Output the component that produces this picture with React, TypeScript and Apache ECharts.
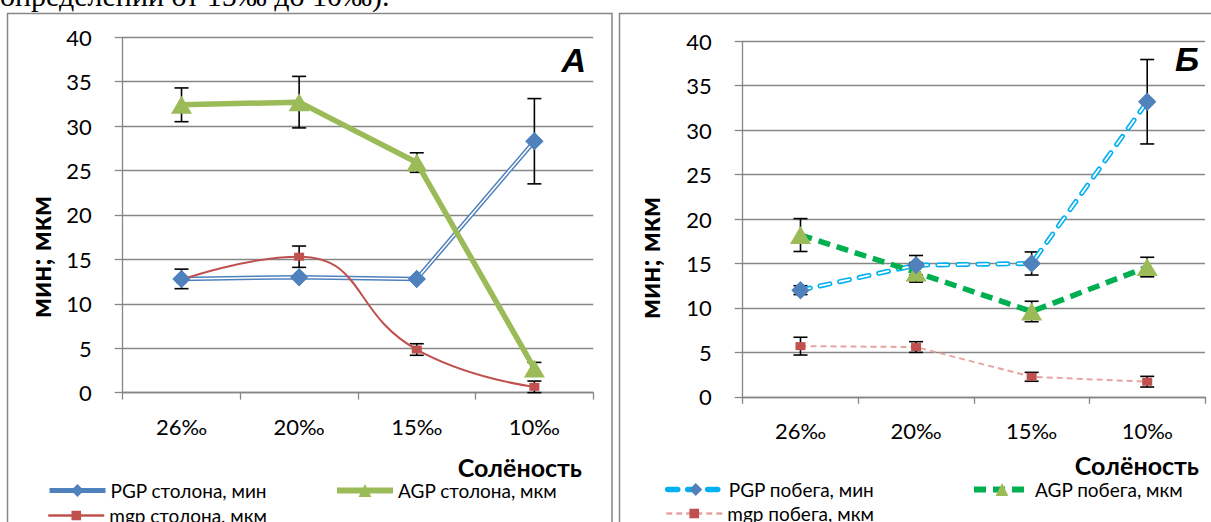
import React, { useEffect, useRef } from "react";
import * as echarts from "echarts";

const categories = ["26‰", "20‰", "15‰", "10‰"];

// Panel A (столон)
const pgpStolon = [12.8, 13.0, 12.8, 28.3];
const pgpStolonErr = [1.1, 0, 0, 4.8];
const agpStolon = [32.4, 32.7, 25.9, 2.7];
const agpStolonErr = [1.9, 2.9, 1.1, 0.7];
const mgpStolon = [12.7, 15.3, 4.85, 0.65];
const mgpStolonErr = [0, 1.2, 0.65, 0.65];

// Panel Б (побег)
const pgpShoot = [12.0, 14.8, 15.0, 33.2];
const pgpShootErr = [0.5, 1.1, 1.3, 4.75];
const agpShoot = [18.2, 14.0, 9.6, 14.6];
const agpShootErr = [1.85, 1.1, 1.15, 1.1];
const mgpShoot = [5.7, 5.6, 2.25, 1.7];
const mgpShootErr = [1.0, 0.6, 0.5, 0.6];

const yMin = 0;
const yMax = 40;
const yStep = 5;

const names = {
  pgpA: "PGP столона, мин",
  agpA: "AGP столона, мкм",
  mgpA: "mgp столона, мкм",
  pgpB: "PGP побега, мин",
  agpB: "AGP побега, мкм",
  mgpB: "mgp побега, мкм",
};

const AXIS = "#868686";
const FONT = "Lato";

function errorSeries(axisIndex: number, values: number[], errs: number[]) {
  return {
    type: "custom",
    xAxisIndex: axisIndex,
    yAxisIndex: axisIndex,
    z: 1,
    silent: true,
    data: values.map((v, i) => [i, v - errs[i], v + errs[i], errs[i]]),
    encode: { x: 0, y: [1, 2] },
    renderItem: (params: any, api: any) => {
      const e = api.value(3);
      if (!e) return { type: "group", children: [] };
      const i = api.value(0);
      const lo = api.coord([i, api.value(1)]);
      const hi = api.coord([i, api.value(2)]);
      const hw = 7;
      const st = { stroke: "#000", lineWidth: 1.6 };
      return {
        type: "group",
        children: [
          { type: "line", shape: { x1: lo[0], y1: lo[1], x2: hi[0], y2: hi[1] }, style: st },
          { type: "line", shape: { x1: lo[0] - hw, y1: lo[1], x2: lo[0] + hw, y2: lo[1] }, style: st },
          { type: "line", shape: { x1: hi[0] - hw, y1: hi[1], x2: hi[0] + hw, y2: hi[1] }, style: st },
        ],
      };
    },
  };
}

function makeLegend(name: string, left: number, top: number, lineWidth: number, itemHeight: number) {
  return {
    data: [name],
    left,
    top,
    orient: "horizontal",
    selectedMode: false,
    itemWidth: 56,
    itemHeight,
    itemGap: 6,
    lineStyle: { width: lineWidth },
    textStyle: { fontFamily: FONT, fontSize: 19, color: "#000" },
  };
}

export default function App() {
  const ref = useRef<HTMLDivElement>(null);

  useEffect(() => {
    if (!ref.current) return;
    const chart = echarts.init(ref.current, undefined, { renderer: "svg" });

    const xAxisBase = {
      type: "category",
      data: categories,
      boundaryGap: true,
      axisLine: { show: true, lineStyle: { color: AXIS, width: 1.3 } },
      axisTick: { show: true, length: 7, interval: 0, lineStyle: { color: AXIS, width: 1.3 } },
      axisLabel: { fontFamily: FONT, fontSize: 22, color: "#000", margin: 23 },
      splitLine: { show: false },
    };
    const yAxisBase = {
      type: "value",
      min: yMin,
      max: yMax,
      interval: yStep,
      axisLine: { show: true, lineStyle: { color: AXIS, width: 1.3 } },
      axisTick: { show: true, length: 8, lineStyle: { color: AXIS, width: 1.3 } },
      axisLabel: { fontFamily: FONT, fontSize: 22, color: "#000", margin: 31 },
      splitLine: { show: true, lineStyle: { color: AXIS, width: 1.3 } },
    };

    const option: any = {
      animation: false,
      textStyle: { fontFamily: FONT },
      grid: [
        { left: 122.7, top: 37.3, width: 470.5, height: 355.3 },
        { left: 742.7, top: 41.3, width: 462.3, height: 355.5 },
      ],
      xAxis: [
        { ...xAxisBase, gridIndex: 0 },
        { ...xAxisBase, gridIndex: 1 },
      ],
      yAxis: [
        { ...yAxisBase, gridIndex: 0 },
        { ...yAxisBase, gridIndex: 1 },
      ],
      legend: [
        makeLegend(names.pgpA, 42, 476, 5, 16),
        makeLegend(names.agpA, 329, 476, 6, 16),
        makeLegend(names.mgpA, 42, 501, 2.5, 12),
        makeLegend(names.pgpB, 660, 475, 5.5, 16),
        makeLegend(names.agpB, 966, 475, 6, 16),
        makeLegend(names.mgpB, 660, 499, 2.5, 12),
      ],
      series: [
        // error bars (under everything)
        errorSeries(0, pgpStolon, pgpStolonErr),
        errorSeries(0, agpStolon, agpStolonErr),
        errorSeries(0, mgpStolon, mgpStolonErr),
        errorSeries(1, pgpShoot, pgpShootErr),
        errorSeries(1, agpShoot, agpShootErr),
        errorSeries(1, mgpShoot, mgpShootErr),

        // ---- Panel A ----
        {
          name: names.pgpA,
          type: "line",
          xAxisIndex: 0,
          yAxisIndex: 0,
          data: pgpStolon,
          z: 2,
          symbol: "diamond",
          symbolSize: 18,
          itemStyle: { color: "#4F81BD" },
          lineStyle: { color: "#4F81BD", width: 4.5 },
        },
        {
          type: "line",
          xAxisIndex: 0,
          yAxisIndex: 0,
          data: pgpStolon,
          z: 3,
          silent: true,
          showSymbol: false,
          symbol: "none",
          lineStyle: { color: "#fff", width: 1.5 },
        },
        {
          name: names.agpA,
          type: "line",
          xAxisIndex: 0,
          yAxisIndex: 0,
          data: agpStolon,
          z: 4,
          symbol: "triangle",
          symbolSize: [21, 18],
          itemStyle: { color: "#9BBB59" },
          lineStyle: { color: "#9BBB59", width: 5.5 },
        },
        {
          name: names.mgpA,
          type: "line",
          xAxisIndex: 0,
          yAxisIndex: 0,
          data: mgpStolon,
          z: 4,
          smooth: 0.5,
          symbol: "rect",
          symbolSize: [10, 8],
          itemStyle: { color: "#C0504D" },
          lineStyle: { color: "#C0504D", width: 2 },
        },
        {
          type: "line",
          xAxisIndex: 0,
          yAxisIndex: 0,
          data: pgpStolon,
          z: 5,
          silent: true,
          symbol: "diamond",
          symbolSize: 18,
          itemStyle: { color: "#4F81BD" },
          lineStyle: { width: 0, opacity: 0 },
        },

        // ---- Panel Б ----
        {
          name: names.pgpB,
          type: "line",
          xAxisIndex: 1,
          yAxisIndex: 1,
          data: pgpShoot,
          z: 2,
          symbol: "diamond",
          symbolSize: 18,
          itemStyle: { color: "#4F81BD" },
          lineStyle: { color: "#00B0F0", width: 5, type: [10, 10], cap: "round" },
        },
        {
          type: "line",
          xAxisIndex: 1,
          yAxisIndex: 1,
          data: pgpShoot,
          z: 3,
          silent: true,
          showSymbol: false,
          symbol: "none",
          lineStyle: { color: "#fff", width: 1.8, type: [10, 10], cap: "round" },
        },
        {
          name: names.agpB,
          type: "line",
          xAxisIndex: 1,
          yAxisIndex: 1,
          data: agpShoot,
          z: 4,
          symbol: "triangle",
          symbolSize: [21, 18],
          itemStyle: { color: "#9BBB59" },
          lineStyle: { color: "#00B050", width: 5.5, type: [12, 7] },
        },
        {
          name: names.mgpB,
          type: "line",
          xAxisIndex: 1,
          yAxisIndex: 1,
          data: mgpShoot,
          z: 4,
          symbol: "rect",
          symbolSize: [10, 8],
          itemStyle: { color: "#C0504D" },
          lineStyle: { color: "#E6A5A3", width: 2, type: [6, 4] },
        },
        {
          type: "line",
          xAxisIndex: 1,
          yAxisIndex: 1,
          data: pgpShoot,
          z: 5,
          silent: true,
          symbol: "diamond",
          symbolSize: 18,
          itemStyle: { color: "#4F81BD" },
          lineStyle: { width: 0, opacity: 0 },
        },
      ],
      graphic: [
        {
          type: "text",
          left: 0,
          top: -20,
          z: 10,
          style: {
            text: "определении от 15‰ до 10‰).",
            font: "30px 'Liberation Serif'",
            fill: "#000",
          },
        },
        {
          type: "rect",
          shape: { x: 7.5, y: 13.5, width: 604.5, height: 600 },
          style: { fill: "none", stroke: AXIS, lineWidth: 1.5 },
          z: 0,
        },
        {
          type: "rect",
          shape: { x: 619.5, y: 13.5, width: 700, height: 600 },
          style: { fill: "none", stroke: AXIS, lineWidth: 1.5 },
          z: 0,
        },
        {
          type: "text",
          x: 586,
          y: 60,
          style: {
            text: "A",
            font: "italic bold 34px 'Liberation Sans'",
            fill: "#000",
            textAlign: "right",
            textVerticalAlign: "middle",
          },
        },
        {
          type: "text",
          x: 1199,
          y: 59,
          style: {
            text: "Б",
            font: "italic bold 34px 'Liberation Sans'",
            fill: "#000",
            textAlign: "right",
            textVerticalAlign: "middle",
          },
        },
        {
          type: "text",
          x: 582,
          y: 467,
          style: {
            text: "Солёность",
            font: "bold 25px Lato",
            fill: "#000",
            textAlign: "right",
            textVerticalAlign: "middle",
          },
        },
        {
          type: "text",
          x: 1199,
          y: 465,
          style: {
            text: "Солёность",
            font: "bold 25px Lato",
            fill: "#000",
            textAlign: "right",
            textVerticalAlign: "middle",
          },
        },
        {
          type: "text",
          x: 40,
          y: 257,
          rotation: Math.PI / 2,
          style: {
            text: "мин; мкм",
            font: "bold 28px Lato",
            fill: "#000",
            textAlign: "center",
            textVerticalAlign: "middle",
          },
        },
        {
          type: "text",
          x: 649,
          y: 258,
          rotation: Math.PI / 2,
          style: {
            text: "мин; мкм",
            font: "bold 28px Lato",
            fill: "#000",
            textAlign: "center",
            textVerticalAlign: "middle",
          },
        },
      ],
    };

    chart.setOption(option);
    return () => chart.dispose();
  }, []);

  return (
    <div
      ref={ref}
      style={{ position: "fixed", left: 0, top: 0, width: 1211, height: 522, background: "#fff" }}
    />
  );
}
